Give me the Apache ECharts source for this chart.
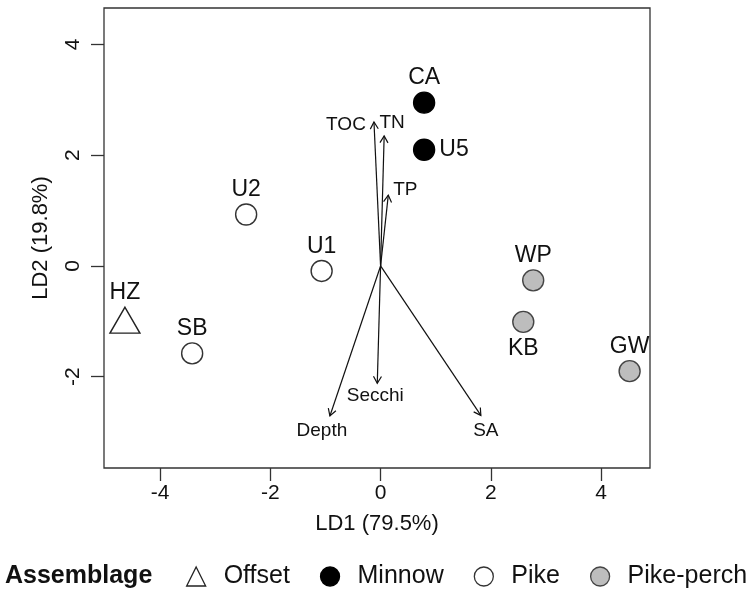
<!DOCTYPE html>
<html>
<head>
<meta charset="utf-8">
<script src="https://cdn.jsdelivr.net/npm/echarts@6/dist/echarts.min.js"></script>
<style>
  html, body { margin: 0; padding: 0; background: #fff; }
  #chart { width: 749px; height: 590px; }
</style>
</head>
<body>
<div id="chart"></div>
<script>
// Site scores on the two discriminant axes
const siteNames = ['HZ', 'CA', 'U5', 'U2', 'U1', 'SB', 'WP', 'KB', 'GW'];
const siteGroup = ['Offset', 'Minnow', 'Minnow', 'Pike', 'Pike', 'Pike', 'Pike-perch', 'Pike-perch', 'Pike-perch'];
const siteLD1 = [-4.64, 0.79, 0.79, -2.44, -1.07, -3.42, 2.77, 2.59, 4.52];
const siteLD2 = [-0.98, 2.95, 2.10, 0.93, -0.09, -1.58, -0.26, -1.01, -1.90];

// Environmental variable vectors (biplot arrows from the origin)
const varNames = ['TOC', 'TN', 'TP', 'Secchi', 'Depth', 'SA'];
const varLD1 = [-0.12, 0.065, 0.14, -0.06, -0.92, 1.82];
const varLD2 = [2.60, 2.35, 1.28, -2.12, -2.71, -2.70];

const groups = ['Offset', 'Minnow', 'Pike', 'Pike-perch'];
const xTicks = [-4, -2, 0, 2, 4];
const yTicks = [-2, 0, 2, 4];

const FONT = '"Liberation Sans", Arial, Helvetica, sans-serif';
const INK = '#111';

const groupStyle = {
  'Offset':     { symbol: 'triangle', size: [30, 26], fill: 'rgba(255,255,255,0)', stroke: '#222' },
  'Minnow':     { symbol: 'circle', size: 21, fill: '#000', stroke: '#000' },
  'Pike':       { symbol: 'circle', size: 21, fill: '#fff', stroke: '#333' },
  'Pike-perch': { symbol: 'circle', size: 21, fill: '#bdbdbd', stroke: '#444' }
};

// where each site name sits relative to its marker
const labelPlace = { U5: 'right', KB: 'bottom' };

// pixel offsets of the arrow captions from their tips
const arrowCaptionShift = {
  TOC: [-28, 3], TN: [8, -13], TP: [17, -5],
  Secchi: [-2, 12], Depth: [-8, 15], SA: [5, 15]
};

const scatterSeries = groups.map(g => {
  const st = groupStyle[g];
  const data = [];
  siteNames.forEach((n, i) => {
    if (siteGroup[i] !== g) return;
    const pos = labelPlace[n] || 'top';
    data.push({
      name: n,
      value: [siteLD1[i], siteLD2[i]],
      label: { position: pos, distance: pos === 'top' ? 2 : 4 }
    });
  });
  return {
    name: g,
    type: 'scatter',
    symbol: st.symbol,
    symbolSize: st.size,
    z: 3,
    itemStyle: { color: st.fill, borderColor: st.stroke, borderWidth: 1.4, opacity: 1 },
    label: {
      show: true,
      formatter: p => p.name,
      fontFamily: FONT,
      fontSize: 23,
      color: INK
    },
    emphasis: { disabled: true },
    data
  };
});

const arrowSeries = {
  type: 'custom',
  coordinateSystem: 'cartesian2d',
  z: 2,
  silent: true,
  data: varNames.map((n, i) => [varLD1[i], varLD2[i], n]),
  renderItem(params, api) {
    const o = api.coord([0, 0]);
    const t = api.coord([api.value(0), api.value(1)]);
    const name = varNames[params.dataIndex];
    const ang = Math.atan2(t[1] - o[1], t[0] - o[0]);
    const hl = 8, ha = Math.PI / 6;
    const p1 = [t[0] - hl * Math.cos(ang - ha), t[1] - hl * Math.sin(ang - ha)];
    const p2 = [t[0] - hl * Math.cos(ang + ha), t[1] - hl * Math.sin(ang + ha)];
    const sh = arrowCaptionShift[name] || [0, 0];
    return {
      type: 'group',
      children: [
        { type: 'line', shape: { x1: o[0], y1: o[1], x2: t[0], y2: t[1] },
          style: { stroke: INK, lineWidth: 1.2 } },
        { type: 'polyline', shape: { points: [p1, t, p2] },
          style: { stroke: INK, lineWidth: 1.2, fill: null } },
        { type: 'text', x: t[0] + sh[0], y: t[1] + sh[1],
          style: { text: name, align: 'center', verticalAlign: 'middle',
                   fontFamily: FONT, fontSize: 19, fill: INK } }
      ]
    };
  }
};

const chart = echarts.init(document.getElementById('chart'), null, { renderer: 'canvas' });

chart.setOption({
  animation: false,
  backgroundColor: '#fff',
  title: {
    text: 'Assemblage',
    left: 5,
    top: 564,
    padding: 0,
    textStyle: { fontFamily: FONT, fontWeight: 'bold', fontSize: 25, color: INK }
  },
  legend: {
    left: 186,
    top: 564,
    padding: 0,
    itemGap: 30,
    itemWidth: 19,
    itemHeight: 19,
    selectedMode: false,
    textStyle: { fontFamily: FONT, fontSize: 25, color: INK, padding: [0, 0, 0, 13] },
    data: groups.map(g => ({
      name: g,
      icon: groupStyle[g].symbol,
      itemStyle: { color: groupStyle[g].fill, borderColor: groupStyle[g].stroke, borderWidth: 1.3 }
    }))
  },
  grid: {
    left: 104, right: 99, top: 8, bottom: 122,
    show: true, borderColor: '#333', borderWidth: 1.3, backgroundColor: 'transparent'
  },
  xAxis: {
    type: 'value',
    min: -5.02, max: 4.89,
    axisLine: { show: false, onZero: false },
    splitLine: { show: false },
    axisTick: { show: true, customValues: xTicks, length: 13, lineStyle: { color: '#333', width: 1.3 } },
    axisLabel: { customValues: xTicks, fontFamily: FONT, fontSize: 21, color: INK, margin: 15 },
    name: 'LD1 (79.5%)',
    nameLocation: 'middle',
    nameGap: 45,
    nameTextStyle: { fontFamily: FONT, fontSize: 22, color: INK }
  },
  yAxis: {
    type: 'value',
    min: -3.65, max: 4.66,
    axisLine: { show: false, onZero: false },
    splitLine: { show: false },
    axisTick: { show: true, customValues: yTicks, length: 13, lineStyle: { color: '#333', width: 1.3 } },
    axisLabel: { customValues: yTicks, rotate: 90, fontFamily: FONT, fontSize: 21, color: INK, margin: 20 },
    name: 'LD2 (19.8%)',
    nameLocation: 'middle',
    nameRotate: 90,
    nameGap: 52,
    nameTextStyle: { fontFamily: FONT, fontSize: 22, color: INK }
  },
  series: [arrowSeries, ...scatterSeries]
});
</script>
</body>
</html>
